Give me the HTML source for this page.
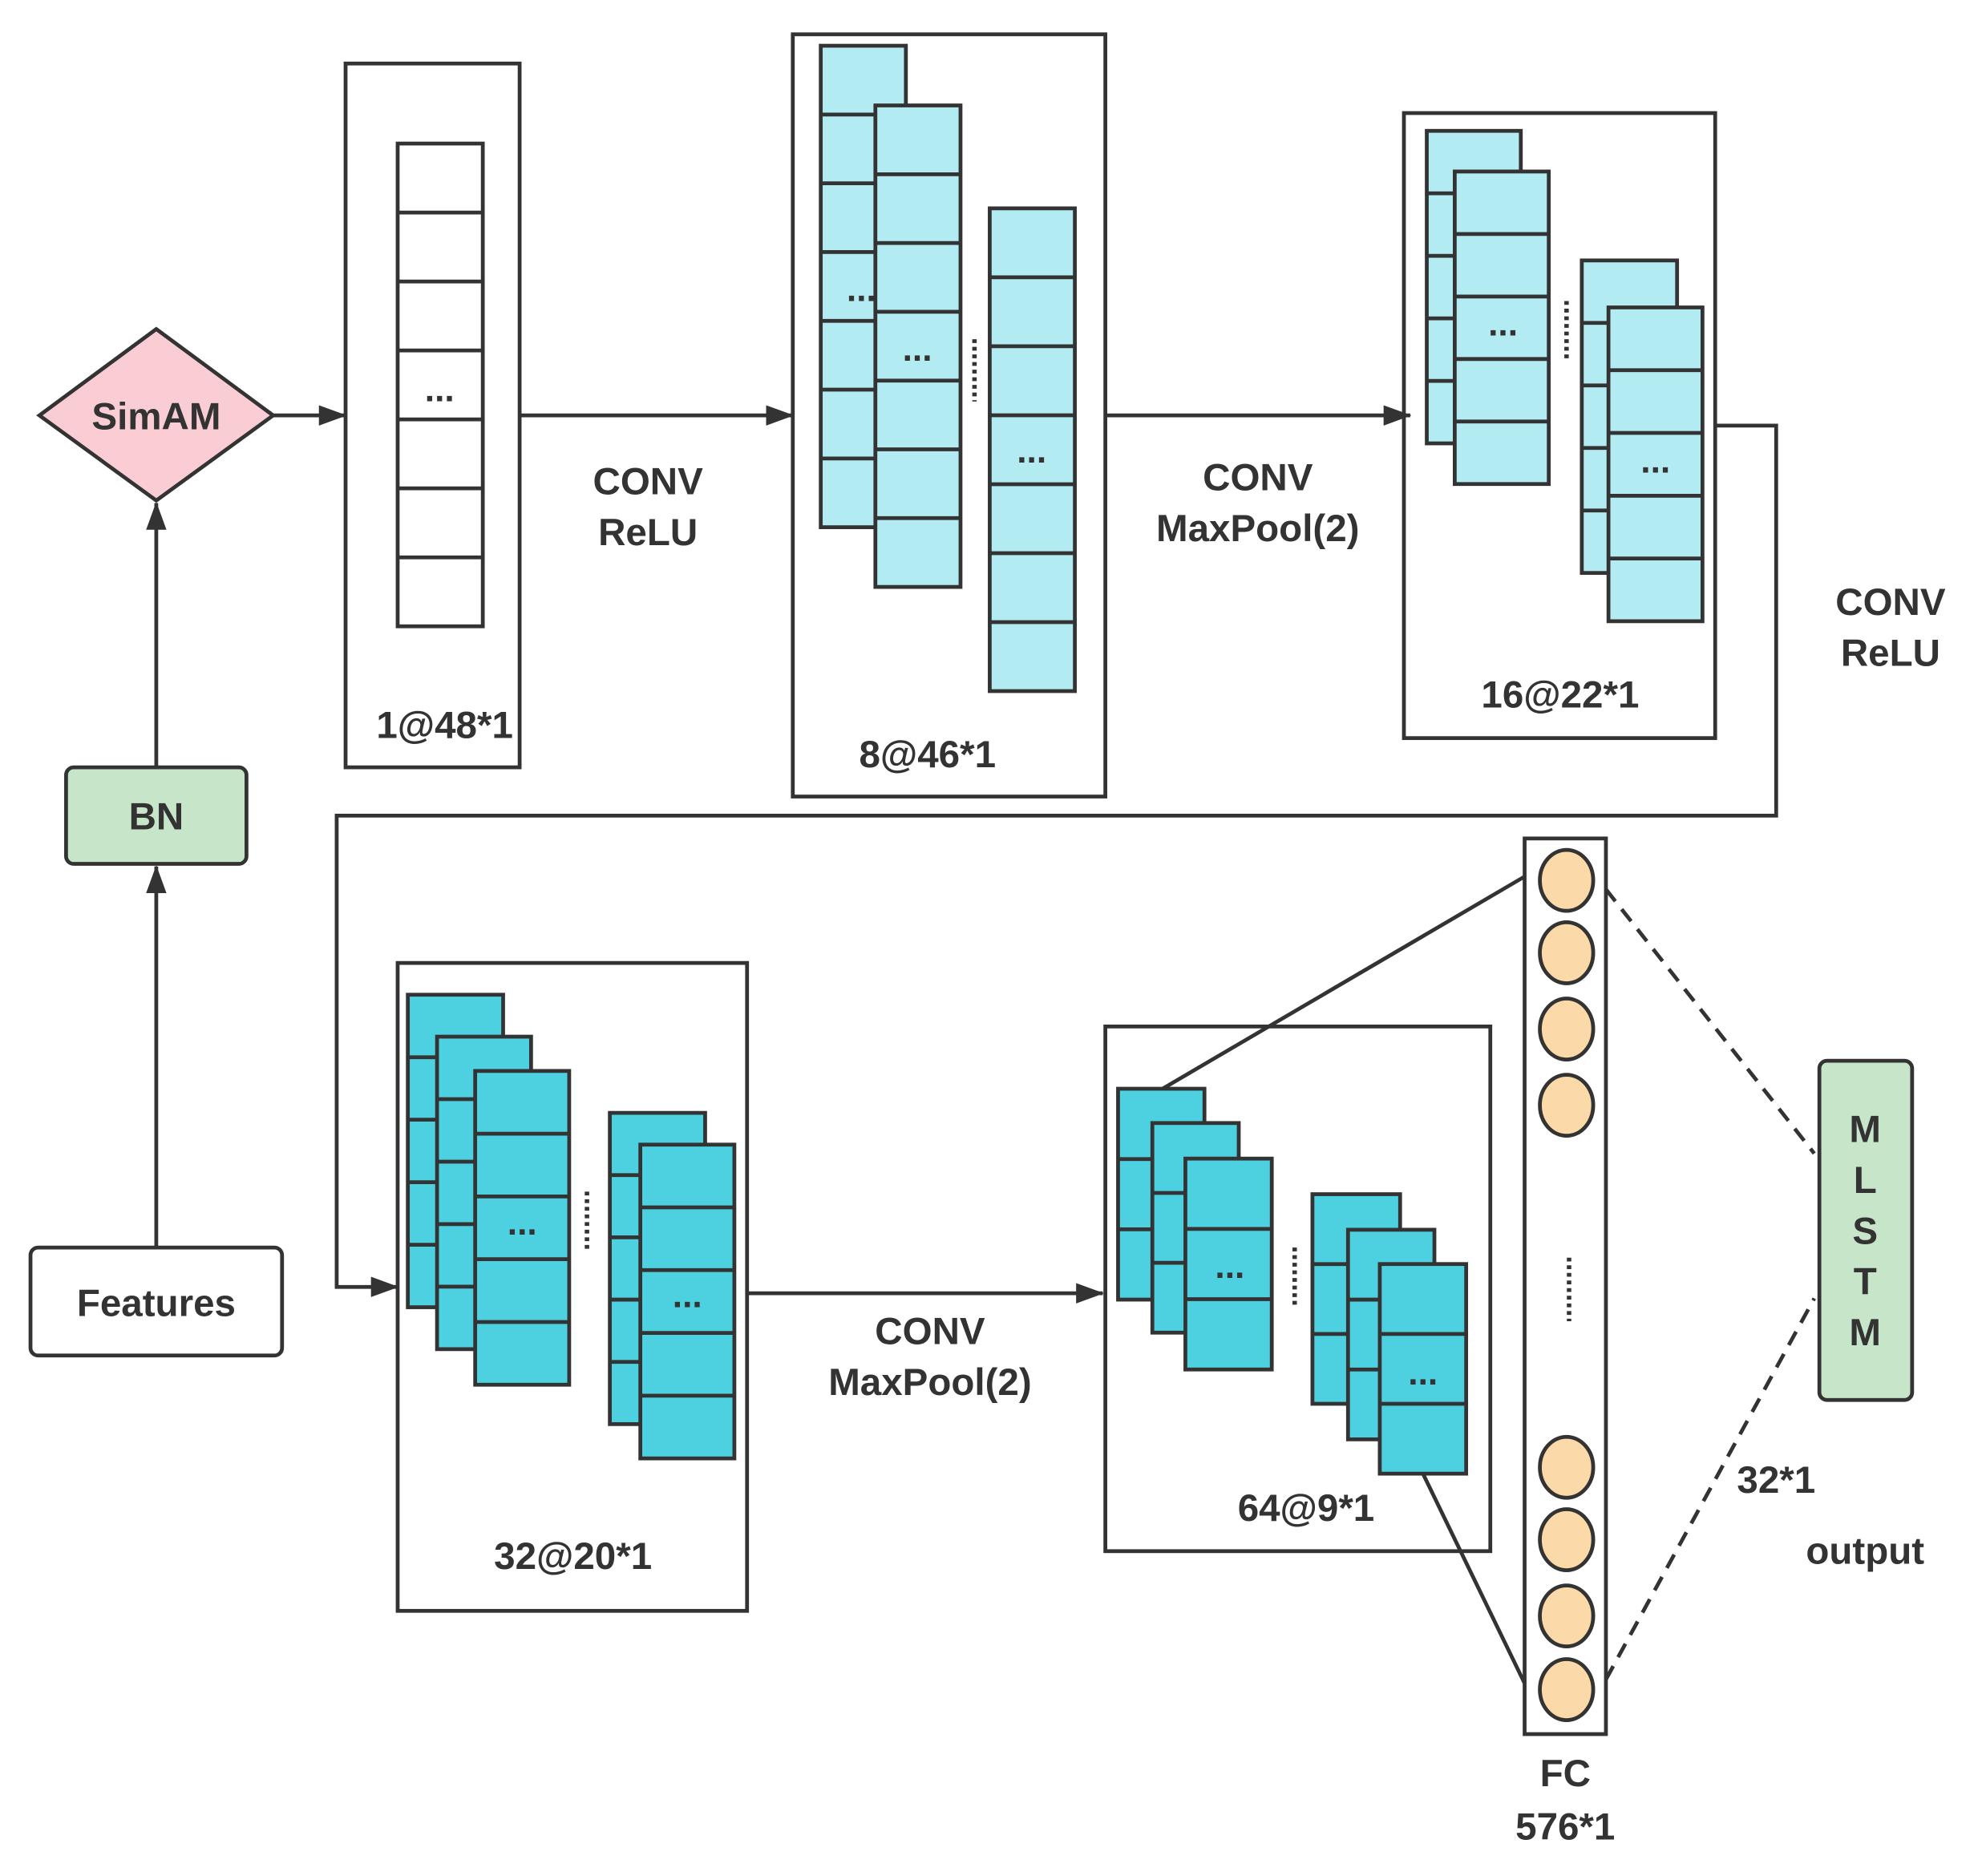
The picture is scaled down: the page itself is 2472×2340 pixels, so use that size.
<!DOCTYPE html>
<html><head><meta charset="utf-8"><style>
html,body{margin:0;padding:0;background:#fff;}
svg{display:block;}
text{font-family:"Liberation Sans",Arial,sans-serif;font-weight:bold;fill:#333;text-anchor:middle;}
</style></head><body>
<svg id="s" width="2472" height="2340" viewBox="0 0 1560 1476.7" preserveAspectRatio="none" xmlns="http://www.w3.org/2000/svg">
<defs>
<marker id="ab" markerWidth="22" markerHeight="16" refX="21" refY="8" orient="auto" markerUnits="userSpaceOnUse"><path d="M0,0 L22,8 L0,16 z" fill="#333"/></marker></defs>
<g id="g" stroke="#333" stroke-width="3" fill="none">
<line x1="123" y1="982" x2="123" y2="682" marker-end="url(#ab)"/>
<line x1="123" y1="604" x2="123" y2="396" marker-end="url(#ab)"/>
<line x1="215" y1="327" x2="272" y2="327" marker-end="url(#ab)"/>
<line x1="409" y1="327" x2="624" y2="327" marker-end="url(#ab)"/>
<line x1="870" y1="327" x2="1110" y2="327" marker-end="url(#ab)"/>
<polyline points="1350,335 1398,335 1398,642 265,642 265,1013 313,1013" marker-end="url(#ab)"/>
<line x1="588" y1="1018" x2="868" y2="1018" marker-end="url(#ab)"/>
<rect x="272" y="50" width="137" height="554"/>
<rect x="624" y="27" width="246" height="600"/>
<rect x="1105" y="89" width="245" height="492"/>
<rect x="313" y="758" width="275" height="510"/>
<rect x="870" y="808" width="303" height="413"/>
<rect x="1200" y="660" width="64" height="705"/>
</g>
<g id="cols"></g>
<g stroke="#333" stroke-width="3">
<line x1="915" y1="857" x2="1200" y2="690"/>
<line x1="1120" y1="1160" x2="1200" y2="1325"/>
<line x1="1264" y1="700" x2="1428" y2="908" stroke-dasharray="12,8"/>
<line x1="1264" y1="1322" x2="1428" y2="1022" stroke-dasharray="12,8"/>
</g>
<g fill="#fcd9a8" stroke="#333" stroke-width="3">
<ellipse cx="1233" cy="693" rx="21" ry="24"/><ellipse cx="1233" cy="750" rx="21" ry="24"/>
<ellipse cx="1233" cy="810" rx="21" ry="24"/><ellipse cx="1233" cy="870" rx="21" ry="24"/>
<ellipse cx="1233" cy="1155" rx="21" ry="24"/><ellipse cx="1233" cy="1212" rx="21" ry="24"/>
<ellipse cx="1233" cy="1272" rx="21" ry="24"/><ellipse cx="1233" cy="1330" rx="21" ry="24"/>
</g>
<g stroke="#333" stroke-width="3.5" stroke-dasharray="3,3">
<line x1="1235" y1="990" x2="1235" y2="1040"/>
<line x1="767" y1="267" x2="767" y2="316"/>
<line x1="1233" y1="237" x2="1233" y2="283"/>
<line x1="462" y1="938" x2="462" y2="985"/>
<line x1="1019" y1="982" x2="1019" y2="1030"/>
</g>
<polygon points="31,327 123,259 215,327 123,394" fill="#f9cdd3" stroke="#333" stroke-width="3"/>
<rect x="52" y="604" width="142" height="76" rx="6" fill="#c6e5c9" stroke="#333" stroke-width="3"/>
<rect x="24" y="982" width="198" height="85" rx="6" fill="#fff" stroke="#333" stroke-width="3"/>
<rect x="1432" y="835" width="73" height="267" rx="6" fill="#c6e5c9" stroke="#333" stroke-width="3"/>
<g font-size="30">
<text x="123" y="338">SimAM</text>
<text x="123" y="653">BN</text>
<text x="123" y="1036">Features</text>
<text x="510" y="389">CONV</text><text x="510" y="429">ReLU</text>
<text x="990" y="386">CONV</text><text x="990" y="426">MaxPool(2)</text>
<text x="1488" y="484">CONV</text><text x="1488" y="524">ReLU</text>
<text x="732" y="1058">CONV</text><text x="732" y="1098">MaxPool(2)</text>
<text x="350" y="581">1@48*1</text>
<text x="730" y="604">8@46*1</text>
<text x="1228" y="557">16@22*1</text>
<text x="451" y="1235">32@20*1</text>
<text x="1028" y="1197">64@9*1</text>
<text x="1232" y="1406">FC</text><text x="1232" y="1448">576*1</text>
<text x="1398" y="1175">32*1</text>
<text x="1468" y="1231">output</text>
<text x="1468" y="899">M</text><text x="1468" y="939">L</text><text x="1468" y="979">S</text><text x="1468" y="1019">T</text><text x="1468" y="1059">M</text>
</g>
<g id="dots"></g>
</svg>
<script>
var cols=document.getElementById('cols');
function col(x,y,w,h,n,fill){
 var s='<rect x="'+x+'" y="'+y+'" width="'+w+'" height="'+h+'" fill="'+fill+'" stroke="#333" stroke-width="3"/>';
 for(var i=1;i<n;i++){var yy=y+h*i/n;s+='<line x1="'+x+'" y1="'+yy+'" x2="'+(x+w)+'" y2="'+yy+'" stroke="#333" stroke-width="3"/>';}
 cols.insertAdjacentHTML('beforeend',s);
}
var L='#b2ebf2',D='#4dd0e0';
col(313,113,67,380,7,'#fff');
col(646,36,67,379,7,L);col(689,83,67,379,7,L);col(779,164,67,380,7,L);
col(1123,103,74,246,5,L);col(1145,135,74,246,5,L);
col(1245,205,75,246,5,L);col(1266,242,74,247,5,L);
col(321,783,75,246,5,D);col(344,816,74,246,5,D);col(374,843,74,247,5,D);
col(480,876,75,245,5,D);col(504,901,74,247,5,D);
col(880,857,68,166,3,D);col(907,884,68,165,3,D);col(933,912,68,166,3,D);
col(1033,940,69,165,3,D);col(1061,968,68,165,3,D);col(1086,995,68,165,3,D);
</script>
<div style="position:absolute;left:0;top:0;width:2472px;height:2340px;pointer-events:none">
<svg width="2472" height="2340" viewBox="0 0 1560 1476.7" preserveAspectRatio="none" xmlns="http://www.w3.org/2000/svg">
<g font-size="28" font-family="Liberation Sans, Arial, sans-serif" font-weight="bold" fill="#222" text-anchor="middle">
<text x="346" y="316">...</text>
<text x="678" y="237">...</text>
<text x="722" y="284">...</text>
<text x="812" y="364">...</text>
<text x="1183" y="264">...</text>
<text x="1303" y="372">...</text>
<text x="411" y="972">...</text>
<text x="541" y="1029">...</text>
<text x="968" y="1006">...</text>
<text x="1120" y="1090">...</text>
</g>
</svg>
</div>
</body></html>
